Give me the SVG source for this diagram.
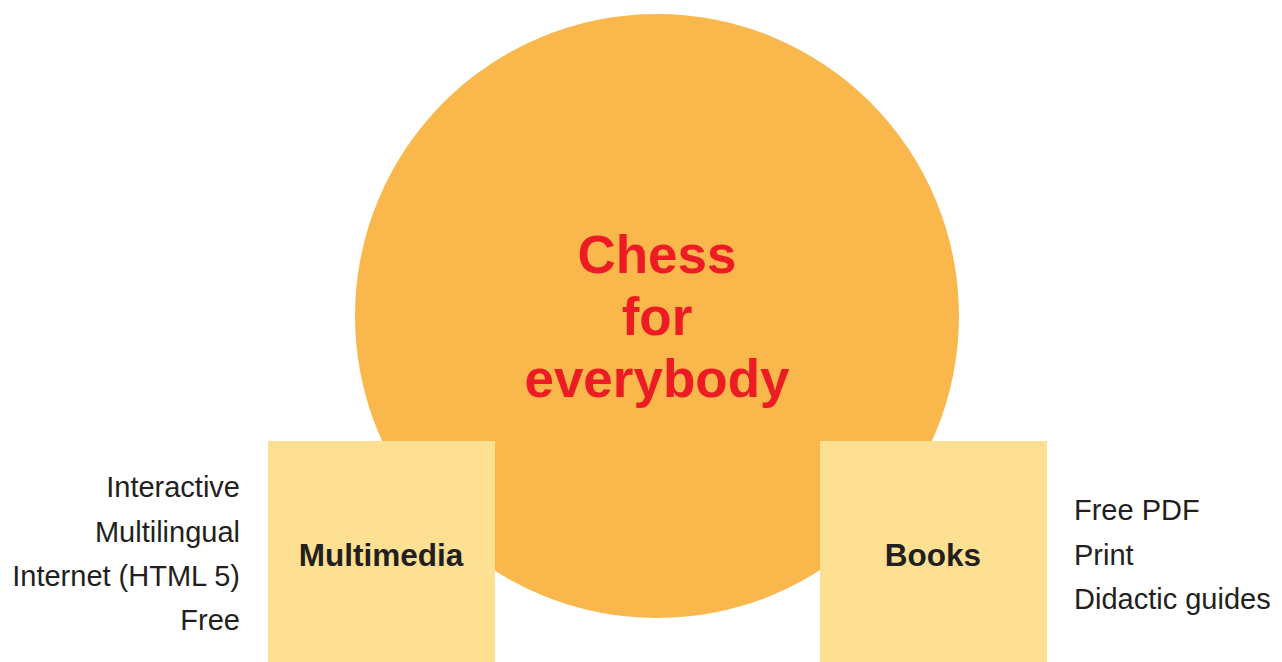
<svg xmlns="http://www.w3.org/2000/svg" width="1282" height="662" viewBox="0 0 1282 662">
<style>
.title{font-family:"Liberation Sans",Arial,sans-serif;font-weight:bold;font-size:53px;fill:#ED1C24;text-anchor:middle}
.box{fill:#FDE091}
.lbl{font-family:"Liberation Sans",Arial,sans-serif;font-weight:bold;font-size:31.5px;fill:#231F20;text-anchor:middle}
.item{font-family:"Liberation Sans",Arial,sans-serif;font-size:29px;fill:#231F20}
</style>
<rect width="1282" height="662" fill="#FFFFFF"/>
<g id="chess">
<circle cx="657" cy="316" r="302" fill="#FAB84C"/>
<text class="title" x="657" y="273">Chess</text>
<text class="title" x="657" y="335">for</text>
<text class="title" x="657" y="397">everybody</text>
</g>
<g id="multimedia">
<rect class="box" x="268" y="441" width="227" height="221"/>
<text class="lbl" x="381" y="566">Multimedia</text>
<g text-anchor="end">
<text class="item" x="240" y="497">Interactive</text>
<text class="item" x="240" y="541.5">Multilingual</text>
<text class="item" x="240" y="586">Internet (HTML 5)</text>
<text class="item" x="240" y="630">Free</text>
</g>
</g>
<g id="books">
<rect class="box" x="820" y="441" width="227" height="221"/>
<text class="lbl" x="933" y="566">Books</text>
<text class="item" x="1074" y="520">Free PDF</text>
<text class="item" x="1074" y="564.5">Print</text>
<text class="item" x="1074" y="609">Didactic guides</text>
</g>
<g id="connectors"/>
</svg>
